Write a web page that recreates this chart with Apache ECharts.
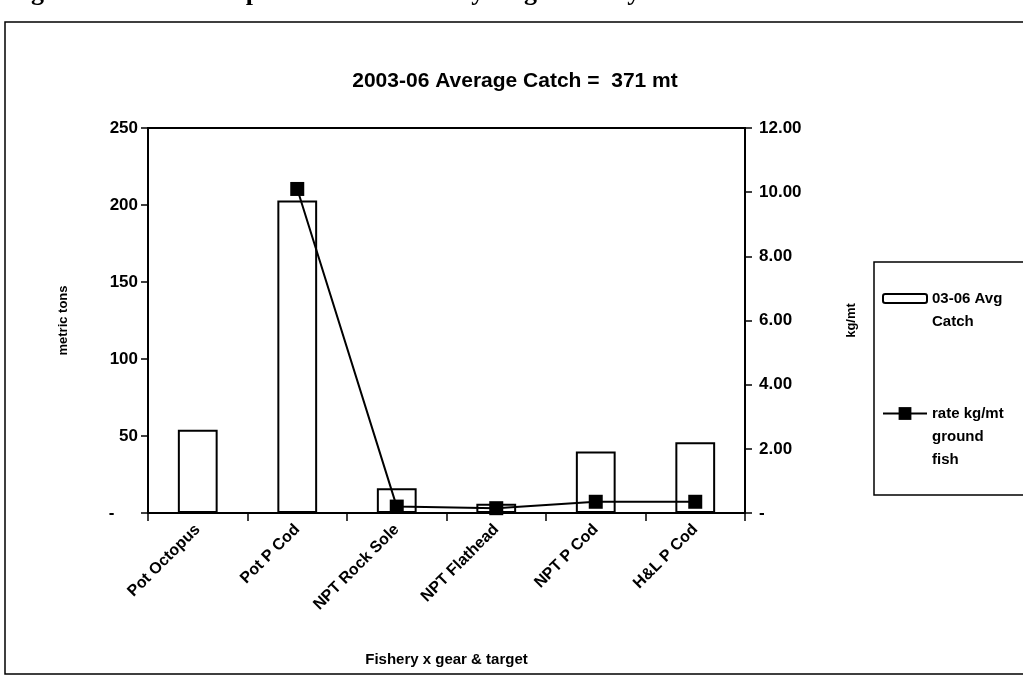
<!DOCTYPE html>
<html><head><meta charset="utf-8">
<script src="https://cdn.jsdelivr.net/npm/echarts@6/dist/echarts.min.js"></script>
<style>html,body{margin:0;padding:0;background:#fff}#c{width:1023px;height:682px}</style>
</head><body><div id="c"></div>
<script>
const categories = ['Pot Octopus','Pot P Cod','NPT Rock Sole','NPT Flathead','NPT P Cod','H&L P Cod'];
const catchMt = [54, 203, 16, 6, 40, 46];
const rateKgMt = [null, 10.1, 0.2, 0.15, 0.35, 0.35];
const leftTicks = [0, 250, 50];
const rightTicks = [0, 12, 2];
const barName = '03-06 Avg\nCatch';
const lineName = 'rate kg/mt\nground\nfish';

const F = '"Liberation Sans", Arial, sans-serif';
const pad = n => name => Array(name.split('\n').length - 1).fill('\u00a0').concat([name]).join('\n');
const chart = echarts.init(document.getElementById('c'), null, {renderer:'canvas'});
chart.setOption({
  backgroundColor:'#fff',
  animation:false,
  title:{text:'2003-06 Average Catch =  371 mt', left:510, textAlign:'center', top:66,
    textStyle:{fontFamily:F, fontWeight:'bold', fontSize:21, color:'#000'}},
  grid:{left:148, right:278, top:128, bottom:169, show:true, borderColor:'#000', borderWidth:2},
  legend:[
    {data:[barName], orient:'vertical', left:882, top:264, padding:0, itemWidth:44, itemHeight:9,
     selectedMode:false, formatter:pad(),
     textStyle:{fontFamily:F, fontWeight:'bold', fontSize:15, color:'#000', lineHeight:23}},
    {data:[lineName], orient:'vertical', left:882, top:356, padding:0, itemWidth:44, itemHeight:16,
     selectedMode:false, formatter:pad(),
     textStyle:{fontFamily:F, fontWeight:'bold', fontSize:15, color:'#000', lineHeight:23}}
  ],
  xAxis:{type:'category', data:categories,
    name:'Fishery x gear & target', nameLocation:'middle', nameGap:139,
    nameTextStyle:{fontFamily:F, fontWeight:'bold', fontSize:15, color:'#000'},
    axisLine:{lineStyle:{color:'#000', width:2}},
    axisTick:{show:true, length:8, lineStyle:{color:'#000', width:1.5}},
    axisLabel:{rotate:45, margin:14, fontFamily:F, fontWeight:'bold', fontSize:16, color:'#000'}},
  yAxis:[
    {type:'value', min:leftTicks[0], max:leftTicks[1], interval:leftTicks[2],
     name:'metric tons', nameLocation:'middle', nameGap:78, nameRotate:90,
     nameTextStyle:{fontFamily:F, fontWeight:'bold', fontSize:13, color:'#000'},
     axisLine:{show:true, lineStyle:{color:'#000', width:2}},
     axisTick:{show:true, length:7, lineStyle:{color:'#000', width:1.5}},
     splitLine:{show:false},
     axisLabel:{margin:10, fontFamily:F, fontWeight:'bold', fontSize:17, color:'#000',
       formatter:v=> v===0 ? '-     ' : String(v)}},
    {type:'value', min:rightTicks[0], max:rightTicks[1], interval:rightTicks[2], position:'right',
     name:'kg/mt', nameLocation:'middle', nameGap:100, nameRotate:90,
     nameTextStyle:{fontFamily:F, fontWeight:'bold', fontSize:13, color:'#000'},
     axisLine:{show:true, lineStyle:{color:'#000', width:2}},
     axisTick:{show:true, length:7, lineStyle:{color:'#000', width:1.5}},
     splitLine:{show:false},
     axisLabel:{margin:14, fontFamily:F, fontWeight:'bold', fontSize:17, color:'#000',
       formatter:v=> v===0 ? '-' : v.toFixed(2)}}
  ],
  series:[
    {name:barName, type:'bar', data:catchMt, barWidth:'40%', yAxisIndex:0,
     itemStyle:{color:'#fff', borderColor:'#000', borderWidth:2}},
    {name:lineName, type:'line', data:rateKgMt, yAxisIndex:1, symbol:'rect', symbolSize:14,
     lineStyle:{color:'#000', width:2}, itemStyle:{color:'#000'}, connectNulls:false}
  ],
  graphic:[
    {type:'rect', shape:{x:5, y:22, width:1030, height:652}, style:{fill:'none', stroke:'#000', lineWidth:1.5}, silent:true},
    {type:'rect', shape:{x:874, y:262, width:170, height:233}, style:{fill:'none', stroke:'#000', lineWidth:1.5}, silent:true},
    {type:'text', left:8, top:-20, style:{text:'Figure 11. BSAI Octopus catch and rate by target fishery', fontFamily:'"Liberation Serif", "Times New Roman", serif', fontWeight:'bold', fontSize:26, fill:'#000'}, silent:true}
  ]
});
</script></body></html>
